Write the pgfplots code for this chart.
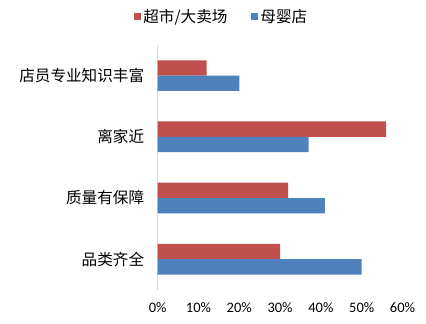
\documentclass[border=0pt]{standalone}
\usepackage{pgfplots}
\pgfplotsset{compat=1.18}
\usepackage{fontspec}
\setmainfont{Carlito}
\newfontfamily\cjk{Noto Sans CJK SC}
\definecolor{cred}{HTML}{C0504D}
\definecolor{cblue}{HTML}{4F81BD}
\definecolor{axgray}{HTML}{D9D9D9}
\begin{document}
\begin{tikzpicture}
\begin{axis}[
  name=ax,
  scale only axis,
  width=245pt, height=245pt,
  xbar,
  xmin=0, xmax=60,
  ymin=-0.5, ymax=3.5,
  bar width=0.25,
  xtick={0,10,20,30,40,50,60},
  xticklabels={0\%,10\%,20\%,30\%,40\%,50\%,60\%},
  ytick={0,1,2,3},
  yticklabels={品类齐全,质量有保障,离家近,店员专业知识丰富},
  yticklabel style={font=\cjk\fontsize{15.6}{17}\selectfont, xshift=-10pt},
  xticklabel style={font=\fontsize{14.5}{16}\selectfont, yshift=-9pt},
  major tick length=0pt,
  axis x line*=bottom,
  axis y line*=left,
  x axis line style={draw=none},
  y axis line style={draw=axgray, line width=0.8pt},
  legend columns=2,
  legend style={draw=none, fill=none, at={(rel axis cs:0.262,1.115)}, anchor=center,
    font=\cjk\fontsize{15.6}{17}\selectfont,
    /tikz/every even column/.append style={column sep=22pt}},
  legend image code/.code={\fill[#1] (0pt,-3.5pt) rectangle (7pt,3.5pt);},
]
\addplot[draw=none, fill=cred, bar shift=0.125] coordinates {(30,0) (32,1) (56,2) (12,3)};
\addplot[draw=none, fill=cblue, bar shift=-0.125] coordinates {(50,0) (41,1) (37,2) (20,3)};
\legend{超市/大卖场,母婴店}
\end{axis}
\path ([xshift=-157.7pt,yshift=-34pt]ax.south west) rectangle ([xshift=23.5pt,yshift=45pt]ax.north east);
\end{tikzpicture}
\end{document}
